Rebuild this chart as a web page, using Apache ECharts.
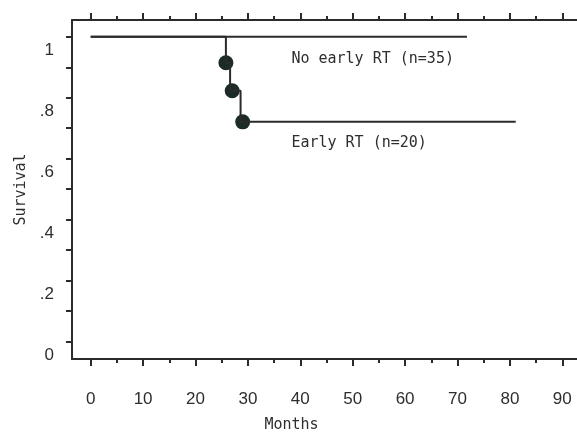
<!DOCTYPE html>
<html>
<head>
<meta charset="utf-8">
<script src="https://cdn.jsdelivr.net/npm/echarts@6/dist/echarts.min.js"></script>
<style>
  html, body { margin: 0; padding: 0; background: #fff; }
  #main { width: 577px; height: 433px; }
</style>
</head>
<body>
<div id="main"></div>
<script>
// survival curves
var noEarlyRT = [[0, 1], [71.8, 1]];
var earlyRT = [[0, 1], [25.8, 0.915], [26.6, 0.823], [28.6, 0.721], [81.1, 0.721]];
var earlyEvents = [[25.8, 0.915], [27.0, 0.823], [29.0, 0.721]];

var xMajorTicks = [0, 10, 20, 30, 40, 50, 60, 70, 80, 90];
var xMinorTicks = [5, 15, 25, 35, 45, 55, 65, 75, 85];
var yTicks = [0, 0.1, 0.2, 0.3, 0.4, 0.5, 0.6, 0.7, 0.8, 0.9, 1];
var yLabels = [0, 0.2, 0.4, 0.6, 0.8, 1];

var ink = '#2b2b2b';
var monoFont = '"DejaVu Sans Mono", "Liberation Mono", monospace';
var narrowFont = '"Liberation Sans Narrow", "Liberation Sans", Arial, sans-serif';

var xMin = -3.57, xMax = 92.8;
var yMin = -0.057, yMax = 1.055;

function gridBox() {
  return { left: 72, right: 0, top: 20, bottom: 74, outerBoundsMode: 'none', containLabel: false };
}

function xAx(grid, pos, ticks, len, showLine, showLabels) {
  return {
    type: 'value', gridIndex: grid, position: pos, min: xMin, max: xMax,
    axisLine: { show: showLine, onZero: false, lineStyle: { color: ink, width: 2 } },
    axisTick: { show: true, customValues: ticks, length: len, lineStyle: { color: ink, width: 2 } },
    axisLabel: showLabels ? {
      customValues: xMajorTicks, margin: 32, color: '#2e2e2e',
      fontFamily: narrowFont, fontSize: 17
    } : { show: false },
    splitLine: { show: false }
  };
}

var chart = echarts.init(document.getElementById('main'));
chart.setOption({
  animation: false,
  backgroundColor: '#fff',
  grid: [gridBox(), gridBox()],
  xAxis: [
    Object.assign(xAx(0, 'bottom', xMajorTicks, 7, true, true), {
      name: 'Months', nameLocation: 'middle', nameGap: 59,
      nameTextStyle: { color: '#2e2e2e', fontFamily: monoFont, fontSize: 15, padding: [0, 66, 0, 0] }
    }),
    xAx(0, 'top', xMajorTicks, 7, true, false),
    xAx(1, 'bottom', xMinorTicks, 4, false, false),
    xAx(1, 'top', xMinorTicks, 4, false, false)
  ],
  yAxis: [
    {
      type: 'value', gridIndex: 0, min: yMin, max: yMax,
      name: 'Survival', nameLocation: 'middle', nameGap: 43,
      nameTextStyle: { color: '#2e2e2e', fontFamily: monoFont, fontSize: 15 },
      axisLine: { show: true, onZero: false, lineStyle: { color: ink, width: 2 } },
      axisTick: { show: true, customValues: yTicks, length: 6, lineStyle: { color: ink, width: 2 } },
      axisLabel: {
        customValues: yLabels, margin: 18, color: '#2e2e2e',
        fontFamily: narrowFont, fontSize: 17, verticalAlign: 'top', padding: [5, 0, 0, 0],
        formatter: function (v) {
          if (v === 0) return '0';
          if (v === 1) return '1';
          return String(v).replace('0.', '.');
        }
      },
      splitLine: { show: false }
    },
    {
      type: 'value', gridIndex: 1, min: yMin, max: yMax, show: false,
      axisLine: { onZero: false },
      splitLine: { show: false }
    }
  ],
  series: [
    {
      name: 'No early RT', type: 'line', data: noEarlyRT,
      showSymbol: false, lineStyle: { color: ink, width: 2 },
      markPoint: {
        symbolSize: 0,
        label: { show: true, position: 'right', distance: 0, formatter: 'No early RT (n=35)',
          color: '#2e2e2e', fontFamily: monoFont, fontSize: 15 },
        data: [{ coord: [38.3, 0.927] }]
      }
    },
    {
      name: 'Early RT', type: 'line', step: 'end', data: earlyRT,
      showSymbol: false, lineStyle: { color: ink, width: 2 },
      markPoint: {
        symbolSize: 0,
        label: { show: true, position: 'right', distance: 0, formatter: 'Early RT (n=20)',
          color: '#2e2e2e', fontFamily: monoFont, fontSize: 15 },
        data: [{ coord: [38.3, 0.651] }]
      }
    },
    {
      name: 'Events', type: 'scatter', data: earlyEvents,
      symbolSize: 15, itemStyle: { color: '#1d2b28', opacity: 1 }
    }
  ]
});
</script>
</body>
</html>
